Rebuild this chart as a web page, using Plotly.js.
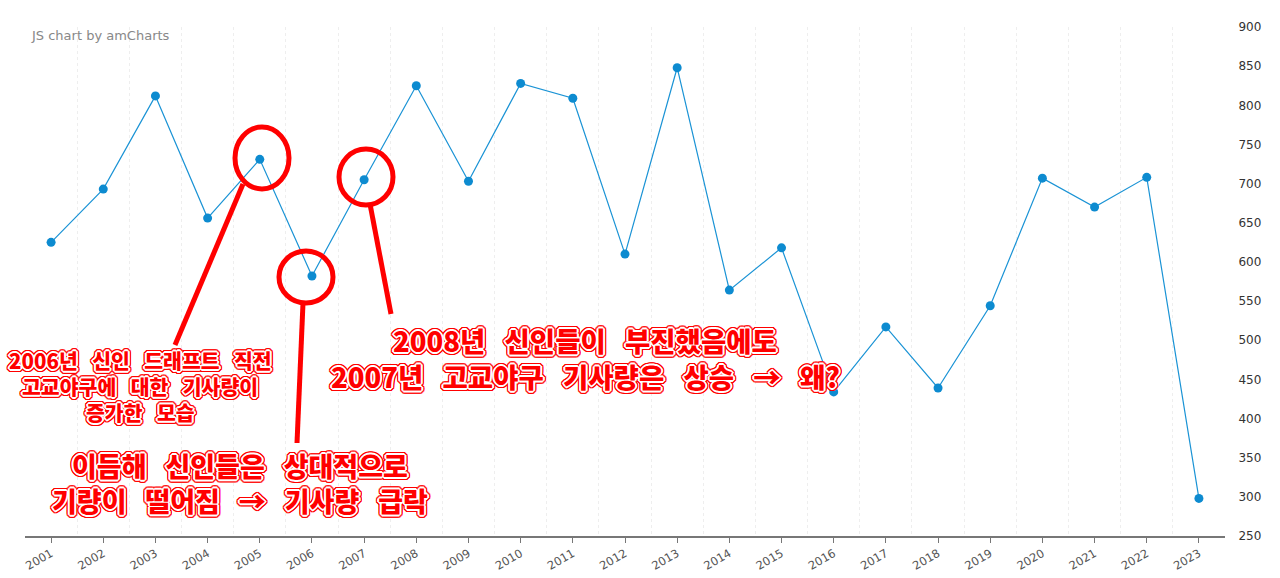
<!DOCTYPE html>
<html>
<head>
<meta charset="utf-8">
<script src="https://cdn.plot.ly/plotly-3.0.1.min.js"></script>
<style>html,body{margin:0;padding:0;background:#fff;}#chart{width:1280px;height:578px;}</style>
</head>
<body>
<div id="chart"></div>
<script>
// ---- data ----
var years = [2001,2002,2003,2004,2005,2006,2007,2008,2009,2010,2011,2012,2013,2014,2015,2016,2017,2018,2019,2020,2021,2022,2023];
var articleCounts = [625,693,812,656,731,582,705,825,703,828,809,610,848,564,618,434,517,439,544,707,670,708,298];
var yTicks = [250,300,350,400,450,500,550,600,650,700,750,800,850,900];

var note1Lines = ["2006년 신인 드래프트 직전", "고교야구에 대한 기사량이", "증가한 모습"];
var note2Lines = ["이듬해 신인들은 상대적으로", "기량이 떨어짐 → 기사량 급락"];
var note3Lines = ["2008년 신인들이 부진했음에도", "2007년 고교야구 기사량은 상승 → 왜?"];

// ---- pixel helpers (plot area 25..1225 x 27..536) ----
var X0 = 2000.5, PX0 = 25, PXW = 1200 / 23;
var Y1 = 900, PY0 = 27, PYH = 509 / 650;
function toX(px){ return X0 + (px - PX0) / PXW; }
function toY(py){ return Y1 - (py - PY0) / PYH; }

var red = '#ff0000';
function ellipse(cx, cy, rx, ry){
  return {type:'circle', xref:'x', yref:'y', x0:toX(cx-rx), x1:toX(cx+rx), y0:toY(cy+ry), y1:toY(cy-ry),
          line:{color:red, width:5}};
}
function seg(ax, ay, bx, by){
  return {type:'line', xref:'x', yref:'y', x0:toX(ax), y0:toY(ay), x1:toX(bx), y1:toY(by),
          line:{color:red, width:5}};
}

var outline = "1px 0 0 #fff, -1px 0 0 #fff, 0 1px 0 #fff, 0 -1px 0 #fff, 1px 1px 0 #fff, -1px -1px 0 #fff, 1px -1px 0 #fff, -1px 1px 0 #fff," +
              "2px 0 0 #fff, -2px 0 0 #fff, 0 2px 0 #fff, 0 -2px 0 #fff," +
              "3px 0 0 #f00, -3px 0 0 #f00, 0 3px 0 #f00, 0 -3px 0 #f00, 2px 2px 0 #f00, -2px -2px 0 #f00, 2px -2px 0 #f00, -2px 2px 0 #f00," +
              "3px 1px 0 #f00, -3px 1px 0 #f00, 3px -1px 0 #f00, -3px -1px 0 #f00, 1px 3px 0 #f00, 1px -3px 0 #f00, -1px 3px 0 #f00, -1px -3px 0 #f00";

var GAP = "\u2002\u2009";
function noteLines(lines, cx, cy0, step, size){
  return lines.map(function(t, i){
    return {text:t.split(' ').join(GAP), xref:'x', yref:'y', x:toX(cx), y:toY(cy0 + i*step), showarrow:false, align:'center',
            xanchor:'center', yanchor:'middle',
            font:{family:'"Noto Sans CJK KR", sans-serif', size:size, color:red, weight:900, shadow:outline}};
  });
}

var trace = {
  x: years, y: articleCounts, type:'scatter', mode:'lines+markers',
  line:{color:'#1a93d5', width:1.2},
  marker:{color:'#0d8bd0', size:9},
  hoverinfo:'x+y'
};

var annotations = [
  {text:'JS chart by amCharts', xref:'paper', yref:'paper', x:0.003, y:1, xanchor:'left', yanchor:'middle',
   yshift:-8, showarrow:false, font:{family:'"DejaVu Sans", Verdana, sans-serif', size:13, color:'#888'}}
].concat(noteLines(note1Lines, 140, 360, 26, 20.5))
 .concat(noteLines(note2Lines, 240, 465, 35, 27))
 .concat(noteLines(note3Lines, 585, 340, 36, 27.5));

var layout = {
  width:1280, height:578,
  paper_bgcolor:'#fff', plot_bgcolor:'#fff',
  margin:{l:25, r:55, t:27, b:42},
  showlegend:false,
  xaxis:{
    type:'linear', range:[2000.5, 2023.5], tickmode:'array', tickvals:years, ticktext:years.map(String),
    tickangle:-30, ticks:'outside', ticklen:5, tickcolor:'#777', tickwidth:1,
    showline:true, linecolor:'#777', linewidth:1.5, showgrid:false, zeroline:false,
    tickfont:{family:'"DejaVu Sans", Verdana, sans-serif', size:11.5, color:'#555'},
    minor:{tick0:2000.5, dtick:1, showgrid:true, gridcolor:'#eeeeee', griddash:'dot', gridwidth:1, ticks:''}
  },
  yaxis:{
    side:'right', range:[250, 900], tickmode:'array', tickvals:yTicks,
    ticks:'outside', ticklen:10, tickcolor:'rgba(0,0,0,0)', showgrid:false, zeroline:false, showline:false,
    tickfont:{family:'"DejaVu Sans", Verdana, sans-serif', size:12, color:'#333'}
  },
  shapes:[
    ellipse(262,158,27,31),
    ellipse(306,277,27,26),
    ellipse(366,177,27,28),
    seg(243,184,175,345),
    seg(303,303,297,443),
    seg(370,204,391,314)
  ],
  annotations: annotations
};

Plotly.newPlot('chart', [trace], layout, {displayModeBar:false, staticPlot:true});
</script>
</body>
</html>
